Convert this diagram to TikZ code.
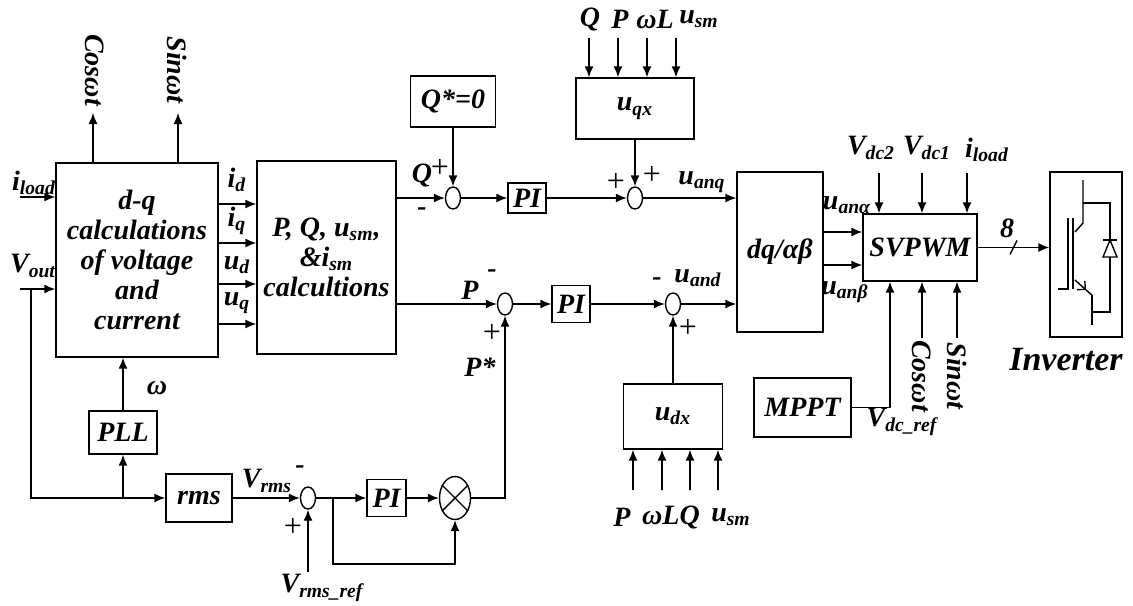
\documentclass[tikz,border=0pt]{standalone}
\usepackage{fontspec}
\setmainfont{Liberation Serif}
\usetikzlibrary{arrows.meta,shapes.geometric}
\newcommand{\sbs}[1]{\textsubscript{#1}}
\tikzset{
  blk/.style={draw, inner sep=1pt, align=center},
  sumnode/.style={draw, ellipse, minimum width=7.5pt, minimum height=11pt, inner sep=0pt},
  arr/.style={-{Latex[length=5.5pt,width=4.5pt]}},
  sgn/.style={font=\fontsize{16}{16}\selectfont\normalfont},
}
\begin{document}
\begin{tikzpicture}[x=0.5pt,y=-0.5pt,line width=0.7pt,
  font=\fontsize{14}{15}\selectfont\bfseries\itshape]
\useasboundingbox (0,0) rectangle (1133,605);

\node[blk, minimum width=81pt, minimum height=97pt] (dq) at (137,260) {d-q\\calculations\\of voltage\\and\\current};
\node[blk, minimum width=69.5pt, minimum height=96.5pt] (pq) at (326.5,257.5) {P, Q, u\sbs{sm},\\\&i\sbs{sm}\\calcultions};
\node[blk, minimum width=42.5pt, minimum height=25.5pt] (qs) at (453,101.5) {Q*=0};
\node[blk, minimum width=59pt, minimum height=30.5pt] (uqx) at (635,108.5) {u\sbs{qx}};
\node[blk, minimum width=19pt, minimum height=15pt] (pi1) at (527,198) {PI};
\node[blk, minimum width=19pt, minimum height=18.5pt] (pi2) at (571,304) {PI};
\node[blk, minimum width=19.5pt, minimum height=18.5pt] (pi3) at (386.5,498) {PI};
\node[blk, minimum width=43pt, minimum height=80pt] (dqab) at (780,252) {dq/αβ};
\node[blk, minimum width=57pt, minimum height=33.5pt] (svm) at (920,247.5) {SVPWM};
\node[blk, minimum width=36pt, minimum height=82.5pt] (inv) at (1086,254.5) {};
\node[blk, minimum width=48.5pt, minimum height=29.5pt] (mppt) at (802.5,407.5) {MPPT};
\node[blk, minimum width=49.5pt, minimum height=32.5pt] (udx) at (673,416.5) {u\sbs{dx}};
\node[blk, minimum width=34pt, minimum height=21.5pt] (pll) at (123,432.5) {PLL};
\node[blk, minimum width=33pt, minimum height=24pt] (rms) at (199,498) {rms};

\node[sumnode] (sq) at (453,198) {};
\node[sumnode] (sq2) at (635,198) {};
\node[sumnode] (sp) at (505,304) {};
\node[sumnode] (sd) at (673,304) {};
\node[sumnode] (sv) at (308,498) {};
\node[draw, ellipse, minimum width=15.5pt, minimum height=21.5pt, inner sep=0pt] (mul) at (455,498) {};
\draw (mul.135) -- (mul.-45) (mul.45) -- (mul.-135);

\coordinate (il) at (20,197);
\coordinate (vo) at (20,289);
\coordinate (vj) at (31,289);
\coordinate (pj) at (123,498);
\coordinate (cs) at (93,113);
\coordinate (sn) at (178,113);
\coordinate (vr) at (308,572);
\coordinate (fb) at (333,498);
\coordinate (fbb) at (333,564);

% left part
\path[draw,arr] (il) -- (il -| dq.west);
\path[draw,arr] (vo) -- (vo -| dq.west);
\path[draw,arr] (vj) |- (rms);
\path[draw,arr] (pj) -- (pll);
\path[draw,arr] (pll) -- (pll |- dq.south);
\path[draw,arr] (dq.north -| cs) -- (cs);
\path[draw,arr] (dq.north -| sn) -- (sn);
\foreach \y in {204,243,284,324}
  \path[draw,arr] (dq.east |- 0,\y) -- (pq.west |- 0,\y);

% voltage loop
\path[draw,arr] (rms) -- (sv);
\path[draw,arr] (vr) -- (sv);
\path[draw,arr] (sv) -- (pi3);
\path[draw,arr] (pi3) -- (mul);
\path[draw,arr] (fb) -- (fbb) -| (mul.south);
\path[draw,arr] (mul.east) -| (sp.south);

% q and d channels
\path[draw,arr] (pq.east |- sq) -- (sq);
\path[draw,arr] (qs) -- (sq);
\path[draw,arr] (sq) -- (pi1);
\path[draw,arr] (pi1) -- (sq2);
\path[draw,arr] (uqx) -- (sq2);
\path[draw,arr] (sq2) -- (sq2 -| dqab.west);
\foreach \x in {589,618,647,676}
  \path[draw,arr] (\x,38) -- (uqx.north -| \x,0);
\path[draw,arr] (pq.east |- sp) -- (sp);
\path[draw,arr] (sp) -- (pi2);
\path[draw,arr] (pi2) -- (sd);
\path[draw,arr] (udx) -- (sd);
\path[draw,arr] (sd) -- (sd -| dqab.west);
\foreach \x in {633,662,690,718}
  \path[draw,arr] (\x,490) -- (udx.south -| \x,0);

% modulator
\foreach \y in {232,265}
  \path[draw,arr] (dqab.east |- 0,\y) -- (svm.west |- 0,\y);
\foreach \x in {879,922,967}
  \path[draw,arr] (\x,173) -- (svm.north -| \x,0);
\foreach \x in {922,957}
  \path[draw,arr] (\x,338) -- (svm.south -| \x,0);
\path[draw,arr] (mppt.east) -| (svm.south -| 890,0);
\path[draw,arr] (svm.east) -- (svm.east -| inv.west) coordinate[pos=0.5] (bus);
\draw ([shift={(-3.5,7)}]bus) -- ([shift={(3.5,-7)}]bus);

% inverter switch
\draw (1058,289) -- (1068,289) -- (1068,218);
\draw (1073,218) -- (1073,289);
\draw (1075,232) -- (1083,223) -- (1083,180);
\draw (1083,203) -- (1110,203) -- (1110,312) -- (1092,312);
\draw (1092,295) -- (1092,325);
\draw[-{Straight Barb[length=3pt]}] (1075,280) -- (1086,290);
\draw (1086,290) -- (1092,295);
\draw[fill=white] (1103,257) -- (1117,257) -- (1110,240) -- cycle;
\draw (1103,240) -- (1117,240);

% labels
\node[rotate=-90] (lcos) at (95,70) {Cosωt};
\node[rotate=-90] (lsin) at (177,70) {Sinωt};
\node (lil) at (34,183) {i\sbs{load}};
\node (lvo) at (33,266) {V\sbs{out}};
\node (lid) at (237,180) {i\sbs{d}};
\node (liq) at (237,221) {i\sbs{q}};
\node (lud) at (237,265) {u\sbs{d}};
\node (luq) at (237,303) {u\sbs{q}};
\node (lw) at (157,388) {ω};
\node (lvrms) at (267,481) {V\sbs{rms}};
\node (lvm) at (300,470) {-};
\node[sgn] (lvp) at (293,527) {+};
\node (lvref) at (322,588) {V\sbs{rms\_ref}};
\node (lq) at (422,175) {Q};
\node[sgn] (lqp) at (440,168) {+};
\node (lqm) at (422,212) {-};
\node[sgn] (lq2a) at (616,182) {+};
\node[sgn] (lq2b) at (652,175) {+};
\node (luanq) at (702,182) {u\sbs{anq}};
\node (lin1) at (590,19) {Q};
\node (lin2) at (620,19) {P};
\node (lin3) at (655,19) {ωL};
\node (lin4) at (699,19) {u\sbs{sm}};
\node (lp) at (470,290) {P};
\node (lpm) at (492,274) {-};
\node[sgn] (lpp) at (492,333) {+};
\node (lps) at (480,367) {P*};
\node (ldm) at (657,282) {-};
\node (luand) at (698,278) {u\sbs{and}};
\node[sgn] (ldp) at (688,328) {+};
\node (ldx1) at (622,517) {P};
\node (ldx2) at (671,517) {ωLQ};
\node (ldx3) at (731,517) {u\sbs{sm}};
\node (lua) at (847,205) {u\sbs{anα}};
\node (lub) at (845,292) {u\sbs{anβ}};
\node (lvdc2) at (871,148) {V\sbs{dc2}};
\node (lvdc1) at (927,148) {V\sbs{dc1}};
\node (lil2) at (987,150) {i\sbs{load}};
\node[rotate=-90] (lcos2) at (922,376) {Cosωt};
\node[rotate=-90] (lsin2) at (957,376) {Sinωt};
\node (lvdcr) at (902,422) {V\sbs{dc\_ref}};
\node (l8) at (1007,228) {8};
\node[font=\fontsize{17}{17}\selectfont\bfseries\itshape] (linv) at (1066,360) {Inverter};
\end{tikzpicture}
\end{document}
